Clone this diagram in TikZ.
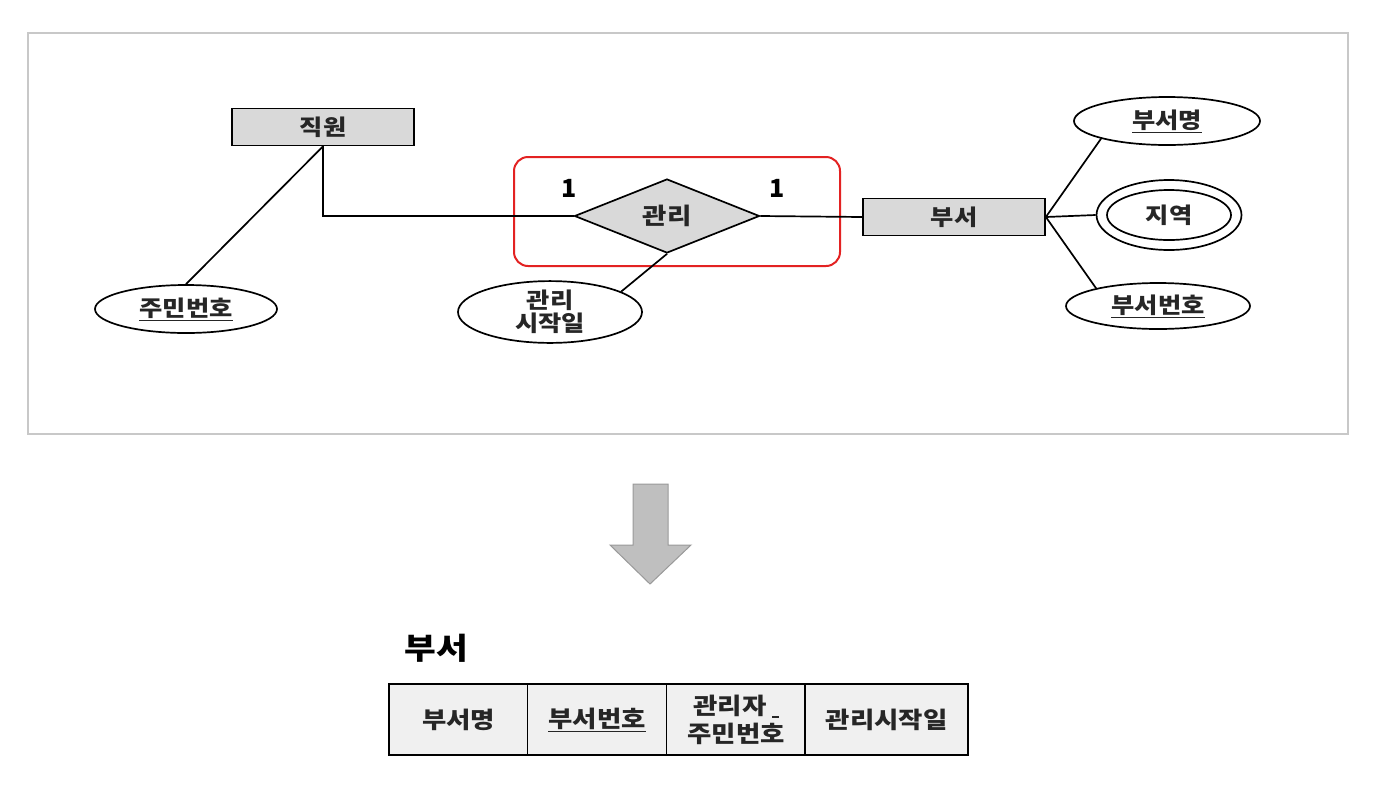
\documentclass[tikz,border=0pt]{standalone}
\usepackage{fontspec}
\usepackage{graphicx}
\setmainfont{Noto Sans CJK KR}
\usetikzlibrary{shapes.geometric}
\definecolor{boxgray}{HTML}{D9D9D9}
\definecolor{framegray}{HTML}{C8C8C8}
\definecolor{arrowgray}{HTML}{BFBFBF}
\definecolor{cellgray}{HTML}{F0F0F0}
\definecolor{hlred}{HTML}{E32222}
\definecolor{txt}{HTML}{262626}
\newcommand{\hx}[1]{\scalebox{1.15}[1]{#1}}
\begin{document}
\begin{tikzpicture}[x=1pt,y=-1pt,
  line width=1.7pt,
  entity/.style={draw, fill=boxgray, minimum width=182pt, minimum height=37pt, inner sep=0pt, text=txt, font=\fontsize{22}{24}\selectfont\bfseries},
  attr/.style={draw, ellipse, fill=white, inner sep=0pt, text=txt, font=\fontsize{22}{24}\selectfont\bfseries},
  rel/.style={draw, diamond, fill=boxgray, aspect=2.5, minimum width=185pt, minimum height=74pt, inner sep=0pt, text=txt, font=\fontsize{23}{25}\selectfont\bfseries},
  card/.style={font=\fontsize{25}{28}\selectfont\bfseries},
  cell/.style={draw, fill=cellgray, minimum width=139pt, minimum height=71pt, inner sep=0pt, align=center, text=txt, font=\fontsize{23}{28}\selectfont\bfseries}
]
\useasboundingbox (0,0) rectangle (1391,801);
% frame
\draw[framegray, line width=2pt] (28,33) rectangle (1348,434);
% red highlight
\draw[hlred, line width=2pt, rounded corners=14pt] (514,157) rectangle (840,266);

% nodes
\node[entity] (jw) at (323,127) {\hx{직원}};
\node[rel] (gr) at (667,216) {\hx{관리}};
\node[entity] (bs) at (954,217) {\hx{부서}};
\node[attr, minimum width=182pt, minimum height=48pt] (jm) at (186,309) {\hx{\underline{주민번호}}};
\node[attr, minimum width=184pt, minimum height=50pt, align=center, font=\fontsize{22}{23}\selectfont\bfseries] (gs) at (550,312) {\hx{관리}\\\hx{시작일}};
\node[attr, minimum width=186pt, minimum height=48pt] (bm) at (1167,121) {\hx{\underline{부서명}}};
\node[attr, minimum width=145pt, minimum height=70pt] (jy) at (1169,215) {};
\node[attr, minimum width=124pt, minimum height=50pt] (jyi) at (1169,215) {\hx{지역}};
\node[attr, minimum width=184pt, minimum height=46pt] (bn) at (1158,306) {\hx{\underline{부서번호}}};

\node[card] (c1) at (569,188) {1};
\node[card] (c2) at (777,188) {1};

% connectors
\draw (jw.south) |- (gr.west);
\draw (jw.south) -- (jm.north);
\draw (gr.east) -- (bs.west);
\draw (gr.south) -- (gs.16);
\draw (bs.east) -- (bm.195);
\draw (bs.east) -- (jy.west);
\draw (bs.east) -- (bn.164);

% down arrow
\draw[fill=arrowgray, draw=arrowgray!80!black, line width=1pt, line join=miter]
  (633,484) -- (668,484) -- (668,545) -- (691,545) -- (650,584) -- (610,545) -- (633,545) -- cycle;

% relation table
\node[font=\fontsize{30}{32}\selectfont\bfseries] (title) at (436,648) {\hx{부서}};
\node[cell] (t1) at (458.5,719.5) {\hx{부서명}};
\node[cell] (t2) at (597,719.5) {\hx{\underline{부서번호}}};
\node[cell] (t3) at (736,719.5) {\hx{관리자}\hspace*{12pt}\\\hx{주민번호}};
\node[cell, minimum width=163pt] (t4) at (886.5,719.5) {\hx{관리시작일}};
\node[fill=txt, inner sep=0pt, minimum width=7pt, minimum height=2.2pt] (us) at (775,717) {};
\end{tikzpicture}
\end{document}
